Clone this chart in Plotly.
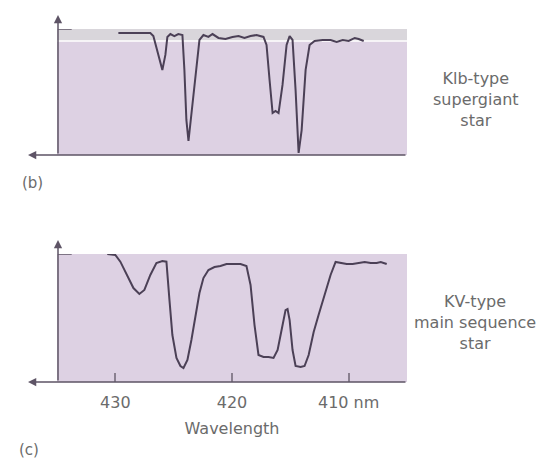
import plotly.graph_objects as go

# ---------------- data ----------------
# (b) KIb-type supergiant: wavelength (nm) and relative intensity
top_wl = [429.74, 428.71, 427.0, 426.74, 426.31, 425.97, 425.71, 425.54, 425.28, 424.94,
          424.6, 424.25, 424.08, 423.91, 423.73, 423.48, 423.13, 422.79, 422.45, 422.02,
          421.67, 421.16, 420.56, 419.96, 419.44, 418.93, 418.41, 417.9, 417.3, 417.04,
          416.78, 416.52, 416.27, 416.01, 415.67, 415.32, 415.06, 414.81, 414.55, 414.29,
          414.03, 413.69, 413.35, 412.92, 412.23, 411.55, 411.03, 410.51, 410.0, 409.48,
          409.14, 408.71]
top_int = [0.968, 0.968, 0.968, 0.944, 0.794, 0.675, 0.794, 0.937, 0.96, 0.944,
           0.96, 0.952, 0.675, 0.278, 0.111, 0.317, 0.635, 0.913, 0.952, 0.937,
           0.96, 0.929, 0.921, 0.937, 0.944, 0.929, 0.944, 0.952, 0.937, 0.873,
           0.595, 0.333, 0.349, 0.333, 0.556, 0.873, 0.944, 0.913, 0.516, 0.016,
           0.198, 0.675, 0.873, 0.905, 0.913, 0.913, 0.897, 0.913, 0.905, 0.929,
           0.921, 0.905]

# (c) KV-type main sequence star
bot_wl = [430.69, 430.0, 429.57, 428.97, 428.45, 427.94, 427.51, 427.0, 426.48, 425.97,
          425.62, 425.36, 425.11, 424.76, 424.42, 424.16, 423.82, 423.48, 423.13, 422.79,
          422.45, 422.02, 421.5, 420.99, 420.47, 419.87, 419.27, 418.76, 418.41, 418.07,
          417.73, 417.3, 416.87, 416.44, 416.09, 415.75, 415.41, 415.24, 415.06, 414.81,
          414.55, 414.12, 413.78, 413.43, 413.0, 412.58, 412.06, 411.55, 411.12, 410.69,
          410.17, 409.66, 409.14, 408.63, 408.11, 407.6, 407.25, 406.74]
bot_int = [1.0, 0.992, 0.94, 0.836, 0.734, 0.688, 0.719, 0.836, 0.93, 0.945,
           0.94, 0.64, 0.367, 0.188, 0.125, 0.109, 0.172, 0.328, 0.523, 0.695,
           0.812, 0.875, 0.898, 0.906, 0.922, 0.922, 0.922, 0.906, 0.758, 0.445,
           0.211, 0.195, 0.195, 0.188, 0.25, 0.406, 0.562, 0.57, 0.484, 0.25,
           0.125, 0.117, 0.125, 0.211, 0.39, 0.523, 0.68, 0.836, 0.938, 0.93,
           0.922, 0.922, 0.93, 0.938, 0.93, 0.93, 0.938, 0.922]

tick_vals = [430, 420, 410]
tick_text = ["430", "420", "410 nm"]
x_range = [435, 405]

# ---------------- styling ----------------
OFF = 8                      # default page body margin
W, H = 545 - OFF, 467 - OFF  # figure size so that it fits the window
PURPLE = "#ddd1e3"
BAND = "#d9d6db"
LINE = "#4b4056"
AXIS = "#5e5466"
TEXT = "#6b6b6b"
FONT = "DejaVu Sans"

def px_x(p):
    return (p - OFF) / W

def px_y(p):
    return 1 - (p - OFF) / H

x_dom = [px_x(57), px_x(407)]
top_dom = [px_y(155), px_y(29)]
bot_dom = [px_y(382), px_y(254)]

fig = go.Figure()
fig.add_trace(go.Scatter(x=top_wl, y=top_int, mode="lines",
                         line=dict(color=LINE, width=2), xaxis="x", yaxis="y",
                         showlegend=False, hoverinfo="skip"))
fig.add_trace(go.Scatter(x=bot_wl, y=bot_int, mode="lines",
                         line=dict(color=LINE, width=2), xaxis="x2", yaxis="y2",
                         showlegend=False, hoverinfo="skip"))

common_y = dict(range=[0, 1], showgrid=False, zeroline=False, showticklabels=False,
                ticks="", showline=False)

fig.update_layout(
    width=W, height=H,
    margin=dict(l=0, r=0, t=0, b=0),
    paper_bgcolor="white",
    plot_bgcolor=PURPLE,
    font=dict(family=FONT, color=TEXT, size=16),
    xaxis=dict(domain=x_dom, range=x_range, anchor="y", showgrid=False,
               zeroline=False, showticklabels=False, ticks="", showline=False),
    yaxis=dict(domain=top_dom, anchor="x", **common_y),
    xaxis2=dict(domain=x_dom, range=x_range, anchor="y2", showgrid=False,
                zeroline=False, tickmode="array", tickvals=tick_vals,
                ticktext=tick_text, ticks="inside", ticklen=9, tickwidth=1.5,
                tickcolor="#8a8090", ticklabelstandoff=9,
                tickfont=dict(family=FONT, size=16, color=TEXT),
                showline=False,
                title=dict(text="Wavelength", font=dict(family=FONT, size=16, color=TEXT),
                           standoff=11)),
    yaxis2=dict(domain=bot_dom, anchor="x2", **common_y),
)

shapes = []
# grey band + white line at the top of panel (b)
shapes.append(dict(type="rect", xref="x domain", yref="y", x0=0, x1=1, y0=0.905, y1=1.0,
                   fillcolor=BAND, line=dict(width=0), layer="below"))
shapes.append(dict(type="line", xref="x domain", yref="y", x0=0, x1=1, y0=0.905, y1=0.905,
                   line=dict(color="white", width=1.5), layer="below"))
# short tick marks at continuum level
for xr, yr in (("x domain", "y"), ("x2 domain", "y2")):
    shapes.append(dict(type="line", xref=xr, yref=yr, x0=0.003, x1=0.042, y0=1, y1=1,
                       line=dict(color=AXIS, width=1.5)))
fig.update_layout(shapes=shapes)

ann = []
# axes with arrows
ax_x = px_x(58)
for dom in (top_dom, bot_dom):
    y_bot = dom[0]
    y_top = dom[1]
    ext = 14 / H
    # vertical axis arrow (up)
    ann.append(dict(xref="paper", yref="paper", x=ax_x, y=y_top + ext, ax=0,
                    ay=(y_top + ext - y_bot) * H, axref="pixel", ayref="pixel",
                    text="", showarrow=True, arrowhead=2, arrowsize=1.1,
                    arrowwidth=1.5, arrowcolor=AXIS))
    # horizontal axis arrow (left)
    ann.append(dict(xref="paper", yref="paper", x=px_x(28), y=y_bot,
                    ax=(x_dom[1] - px_x(28)) * W, ay=0, text="", showarrow=True,
                    arrowhead=2, arrowsize=1.1, arrowwidth=1.5, arrowcolor=AXIS))

ann.append(dict(xref="paper", yref="paper", x=px_x(476), y=px_y(99),
                xanchor="center", yanchor="middle",
                text="Klb-type<br>supergiant<br>star", showarrow=False,
                font=dict(family=FONT, size=16, color=TEXT), align="center"))
ann.append(dict(xref="paper", yref="paper", x=px_x(475), y=px_y(322),
                xanchor="center", yanchor="middle",
                text="KV-type<br>main sequence<br>star", showarrow=False,
                font=dict(family=FONT, size=16, color=TEXT), align="center"))
ann.append(dict(xref="paper", yref="paper", x=px_x(32), y=px_y(183),
                xanchor="center", yanchor="middle",
                text="(b)", showarrow=False,
                font=dict(family=FONT, size=15, color=TEXT)))
ann.append(dict(xref="paper", yref="paper", x=px_x(29), y=px_y(450),
                xanchor="center", yanchor="middle",
                text="(c)", showarrow=False,
                font=dict(family=FONT, size=15, color=TEXT)))
fig.update_layout(annotations=ann)

fig.write_html("out.html")
